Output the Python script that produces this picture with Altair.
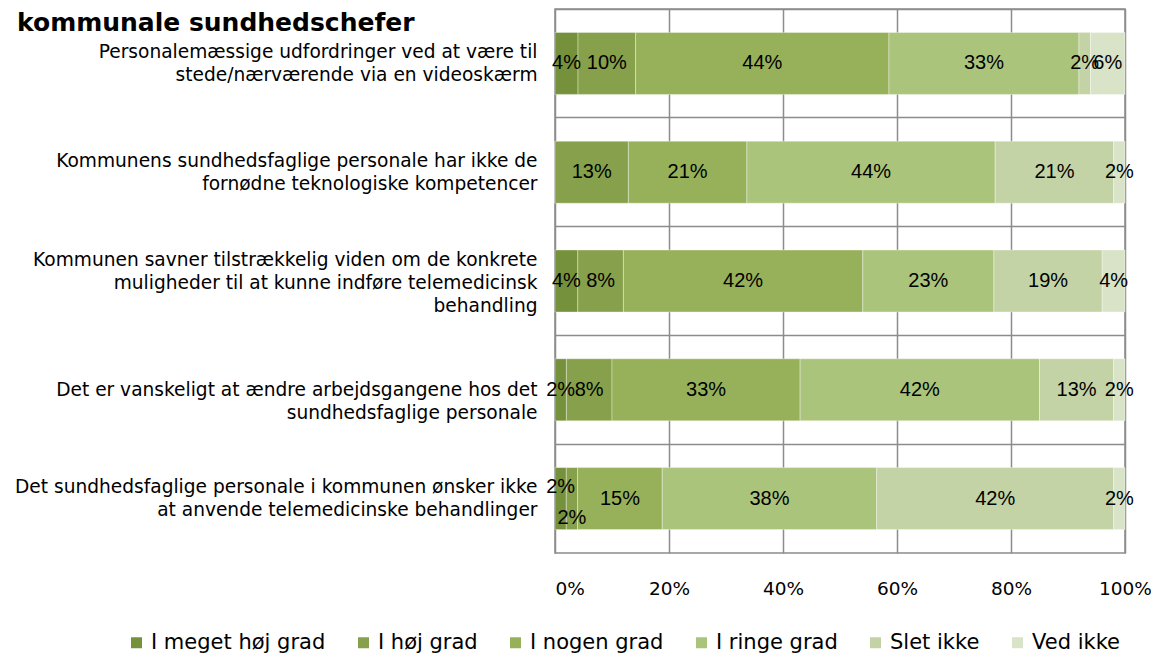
import altair as alt
import pandas as pd

title_text = "kommunale sundhedschefer"

categories = [
    "Personalemæssige udfordringer ved at være til\nstede/nærværende via en videoskærm",
    "Kommunens sundhedsfaglige personale har ikke de\nfornødne teknologiske kompetencer",
    "Kommunen savner tilstrækkelig viden om de konkrete\nmuligheder til at kunne indføre telemedicinsk\nbehandling",
    "Det er vanskeligt at ændre arbejdsgangene hos det\nsundhedsfaglige personale",
    "Det sundhedsfaglige personale i kommunen ønsker ikke\nat anvende telemedicinske behandlinger",
]

series = ["I meget høj grad", "I høj grad", "I nogen grad", "I ringe grad", "Slet ikke", "Ved ikke"]
colors = ["#76913C", "#87A04B", "#97B15A", "#ABC47C", "#C3D3A5", "#D8E3C7"]

v_meget_hoj = [4, 0, 4, 2, 2]
v_hoj = [10, 13, 8, 8, 2]
v_nogen = [44, 21, 42, 33, 15]
v_ringe = [33, 44, 23, 42, 38]
v_slet = [2, 21, 19, 13, 42]
v_ved = [6, 2, 4, 2, 2]

values = [v_meget_hoj, v_hoj, v_nogen, v_ringe, v_slet, v_ved]

rows = []
for si, (s, vals) in enumerate(zip(series, values)):
    for ci, (c, v) in enumerate(zip(categories, vals)):
        rows.append({"category": c, "cidx": ci, "series": s, "idx": si, "value": v,
                     "label": f"{v}%"})
df = pd.DataFrame(rows)

base = alt.Chart(df).transform_stack(
    stack="value", groupby=["category"], sort=[alt.SortField("idx")],
    as_=["v0", "v1"], offset="normalize"
).transform_calculate(mid="(datum.v0 + datum.v1) / 2")

y_enc = alt.Y(
    "category:N", sort=categories, title=None,
    scale=alt.Scale(paddingInner=0, paddingOuter=0),
    axis=alt.Axis(
        labelExpr="split(datum.label, '\\n')",
        labelFont="DejaVu Sans", labelFontSize=18.6, labelColor="#000000",
        labelLimit=700, labelPadding=18, labelLineHeight=23,
        labelOffset={
            "condition": [
                {"test": "indexof(datum.value, 'vanskeligt') >= 0", "value": 0},
                {"test": "length(split(datum.value, '\\n')) >= 3", "value": -21},
            ],
            "value": -11.5,
        },
        domain=False, ticks=False, grid=True, bandPosition=0,
        gridColor="#8c8c8c", gridWidth=1.5,
    ),
)

x_enc = alt.X(
    "v0:Q", title=None,
    scale=alt.Scale(domain=[0, 1], nice=False),
    axis=alt.Axis(
        values=[0, 0.2, 0.4, 0.6, 0.8, 1.0], format=".0%",
        labelFont="DejaVu Sans", labelFontSize=18.5, labelColor="#000000",
        labelFlush=False,
        labelAlign={"condition": {"test": "datum.value == 0", "value": "left"}, "value": "center"},
        labelPadding=26, domain=False, ticks=False, grid=True,
        gridColor="#8c8c8c", gridWidth=1.5,
    ),
)

bars = base.mark_bar(height={"band": 0.57}, stroke="#ffffff", strokeWidth=0.6, strokeOpacity=0.6).encode(
    y=y_enc,
    x=x_enc,
    x2="v1:Q",
    color=alt.Color(
        "series:N", sort=series,
        scale=alt.Scale(domain=series, range=colors),
        legend=alt.Legend(
            title=None, orient="none", direction="horizontal",
            legendX=-429, legendY=623,
            symbolType="square", symbolSize=121, symbolStrokeWidth=0,
            labelFont="DejaVu Sans", labelFontSize=21, labelColor="#000000",
            labelOffset=4, columnPadding=27, labelLimit=400,
        ),
    ),
    order=alt.Order("idx:Q"),
)

is_last = "datum.cidx == 4"
label_common = dict(font="Liberation Sans", fontSize=20, color="#000000", align="center", baseline="middle")

labels = base.transform_filter("datum.value > 0").transform_filter(
    f"!({is_last} && datum.idx <= 1)"
).mark_text(**label_common).encode(
    y=alt.Y("category:N", sort=categories),
    x=alt.X("mid:Q"),
    text="label:N",
)

labels_up = base.transform_filter(f"{is_last} && datum.idx == 0").mark_text(dy=-12, **label_common).encode(
    y=alt.Y("category:N", sort=categories),
    x=alt.X("mid:Q"),
    text="label:N",
)

labels_down = base.transform_filter(f"{is_last} && datum.idx == 1").mark_text(dy=19, **label_common).encode(
    y=alt.Y("category:N", sort=categories),
    x=alt.X("mid:Q"),
    text="label:N",
)

title_layer = alt.Chart(pd.DataFrame({"t": [title_text]})).mark_text(
    font="DejaVu Sans", fontSize=25, fontWeight="bold", color="#000000",
    align="left", baseline="alphabetic"
).encode(text="t:N", x=alt.value(-538), y=alt.value(22))

chart = alt.layer(bars, labels, labels_up, labels_down, title_layer).properties(
    width=570, height=544,
    autosize=alt.AutoSizeParams(type="none"),
    padding={"left": 547, "top": 1, "right": 26, "bottom": 104},
).configure_view(
    stroke="#8c8c8c", strokeWidth=1.5
)

chart.save("out.html", embed_options={"renderer": "svg", "actions": False})
